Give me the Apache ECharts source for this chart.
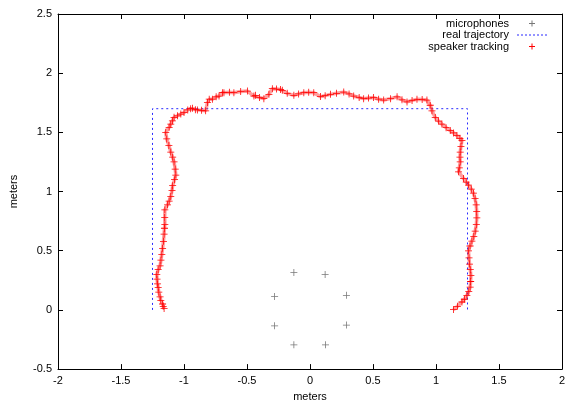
<!DOCTYPE html>
<html><head><meta charset="utf-8">
<script src="https://cdn.jsdelivr.net/npm/echarts@6/dist/echarts.min.js"></script>
<style>html,body{margin:0;padding:0;background:#fff;overflow:hidden}#c{width:581px;height:407px}</style>
</head><body><div id="c"></div>
<script>
const xTicks = [-2, -1.5, -1, -0.5, 0, 0.5, 1, 1.5, 2];
const yTicks = [-0.5, 0, 0.5, 1, 1.5, 2, 2.5];
const seriesNames = ['microphones', 'real trajectory', 'speaker tracking'];
const microphones = [
  [-0.128, 0.317], [0.120, 0.300], [-0.281, 0.114], [0.289, 0.123],
  [-0.281, -0.134], [0.289, -0.128], [-0.128, -0.295], [0.123, -0.295]
];
const realTrajectory = [[-1.25, 0], [-1.25, 1.7], [1.25, 1.7], [1.25, 0]];
const speakerTracking = [
  [-1.158, 0.011], [-1.165, 0.03], [-1.17, 0.05], [-1.184, 0.081], [-1.19, 0.11], [-1.20, 0.15],
  [-1.205, 0.19], [-1.21, 0.22], [-1.214, 0.26], [-1.216, 0.30], [-1.205, 0.34], [-1.19, 0.373],
  [-1.183, 0.42], [-1.176, 0.47], [-1.17, 0.52], [-1.163, 0.58], [-1.158, 0.64], [-1.155, 0.69],
  [-1.152, 0.72], [-1.153, 0.78], [-1.152, 0.846], [-1.131, 0.888], [-1.118, 0.92], [-1.105, 0.958],
  [-1.095, 1.01], [-1.09, 1.05], [-1.075, 1.10], [-1.065, 1.139], [-1.07, 1.19], [-1.079, 1.25],
  [-1.09, 1.29], [-1.105, 1.334], [-1.12, 1.39], [-1.137, 1.445], [-1.145, 1.50], [-1.118, 1.543],
  [-1.105, 1.57], [-1.092, 1.598], [-1.079, 1.627], [-1.052, 1.64], [-1.025, 1.655], [-1.0, 1.668],
  [-0.97, 1.69], [-0.947, 1.70], [-0.933, 1.704], [-0.91, 1.692], [-0.894, 1.69], [-0.86, 1.686],
  [-0.828, 1.682], [-0.814, 1.752], [-0.80, 1.78], [-0.775, 1.78], [-0.745, 1.80], [-0.722, 1.807],
  [-0.695, 1.835], [-0.683, 1.835], [-0.64, 1.838], [-0.604, 1.835], [-0.55, 1.845], [-0.497, 1.849],
  [-0.445, 1.807], [-0.432, 1.813], [-0.40, 1.795], [-0.366, 1.785], [-0.326, 1.821], [-0.299, 1.869],
  [-0.265, 1.866], [-0.234, 1.863], [-0.22, 1.855], [-0.181, 1.83], [-0.128, 1.813], [-0.09, 1.825],
  [-0.049, 1.835], [-0.01, 1.838], [0.03, 1.835], [0.083, 1.802], [0.12, 1.81], [0.162, 1.821],
  [0.21, 1.83], [0.268, 1.84], [0.31, 1.825], [0.347, 1.807], [0.39, 1.795], [0.426, 1.785],
  [0.465, 1.79], [0.505, 1.794], [0.545, 1.78], [0.585, 1.773], [0.64, 1.785], [0.691, 1.80],
  [0.73, 1.775], [0.770, 1.757], [0.81, 1.77], [0.849, 1.779], [0.89, 1.777], [0.928, 1.773],
  [0.954, 1.729], [0.968, 1.682], [0.994, 1.626], [1.02, 1.595], [1.047, 1.57], [1.08, 1.54],
  [1.113, 1.515], [1.14, 1.495], [1.166, 1.473], [1.19, 1.45], [1.206, 1.431], [1.198, 1.38],
  [1.192, 1.334], [1.19, 1.29], [1.192, 1.25], [1.185, 1.20], [1.179, 1.167], [1.218, 1.111],
  [1.24, 1.08], [1.258, 1.055], [1.28, 1.02], [1.297, 0.986], [1.31, 0.94], [1.319, 0.888],
  [1.323, 0.83], [1.324, 0.777], [1.32, 0.72], [1.311, 0.666], [1.30, 0.62], [1.285, 0.582],
  [1.27, 0.54], [1.258, 0.499], [1.262, 0.44], [1.266, 0.387], [1.272, 0.34], [1.277, 0.29],
  [1.275, 0.24], [1.271, 0.192], [1.26, 0.155], [1.245, 0.123], [1.225, 0.09], [1.206, 0.067],
  [1.17, 0.03], [1.139, 0.003]
];

const plusPath = 'M4,0h1v4h4v1h-4v4h-1v-4h-4v-1h4z';
const plus = 'path://' + plusPath;
// legend icons: 30x11 boxes (tiny corner anchors keep the box size)
const anchors = 'M0,0L0.01,0L0,0.01ZM30,11L29.99,11L30,10.99Z';
const legendPlus = 'path://' + anchors + 'M14.5,2.5h1v2.5h2.5v1h-2.5v2.5h-1v-2.5h-2.5v-1h2.5z';
let dash = '';
for (let i = 0; i < 30; i += 4) dash += 'M' + i + ',5h2v1h-2z';
const legendDash = 'path://' + anchors + dash;

const font = 'Liberation Sans';
const fmt = v => String(v);
function axisCommon(show) {
  return {
    axisLine: { show: true, onZero: false, lineStyle: { color: '#000', width: 1 } },
    axisTick: { show: true, inside: true, length: 5, lineStyle: { color: '#000' } },
    axisLabel: { show: show, color: '#000', fontFamily: font, fontSize: 11, formatter: fmt, margin: 6 },
    splitLine: { show: false }
  };
}
const chart = echarts.init(document.getElementById('c'), null, { renderer: 'canvas', width: 581, height: 407 });
chart.setOption({
  animation: false,
  backgroundColor: '#fff',
  grid: { left: 57, right: 19, top: 14, bottom: 34, containLabel: false },
  xAxis: [
    Object.assign({ type: 'value', min: xTicks[0], max: xTicks[xTicks.length - 1], interval: 0.5, position: 'bottom',
      name: 'meters', nameLocation: 'middle', nameGap: 20, nameTextStyle: { fontFamily: font, fontSize: 11, color: '#000' } }, axisCommon(true)),
    Object.assign({ type: 'value', min: xTicks[0], max: xTicks[xTicks.length - 1], interval: 0.5, position: 'top' }, axisCommon(false))
  ],
  yAxis: [
    Object.assign({ type: 'value', min: yTicks[0], max: yTicks[yTicks.length - 1], interval: 0.5, position: 'left',
      name: 'meters', nameLocation: 'middle', nameGap: 39, nameTextStyle: { fontFamily: font, fontSize: 11, color: '#000' } }, axisCommon(true)),
    Object.assign({ type: 'value', min: yTicks[0], max: yTicks[yTicks.length - 1], interval: 0.5, position: 'right' }, axisCommon(false))
  ],
  legend: {
    orient: 'vertical', right: 34, top: 18, align: 'right', itemGap: 0.5, padding: 0,
    itemWidth: 30, itemHeight: 11,
    textStyle: { fontFamily: font, fontSize: 11, lineHeight: 11, color: '#000', padding: [0, 3, 0, 0] },
    data: [
      { name: seriesNames[0], icon: legendPlus, itemStyle: { color: '#555' } },
      { name: seriesNames[1], icon: legendDash, itemStyle: { color: '#2a2aff' } },
      { name: seriesNames[2], icon: legendPlus, itemStyle: { color: '#ff0000' } }
    ]
  },
  series: [
    { name: seriesNames[0], type: 'scatter', data: microphones, symbol: plus, symbolSize: 7,
      itemStyle: { color: '#555' } },
    { name: seriesNames[1], type: 'line', data: realTrajectory, symbol: 'none', showSymbol: false,
      lineStyle: { color: '#2a2aff', width: 1, type: [2, 3] }, itemStyle: { color: '#2a2aff' } },
    { name: seriesNames[2], type: 'line', data: speakerTracking, symbol: plus, symbolSize: 7, showSymbol: true,
      lineStyle: { color: 'rgba(255,40,40,0.45)', width: 3.5 }, itemStyle: { color: '#ff0000' } }
  ]
});
</script></body></html>
